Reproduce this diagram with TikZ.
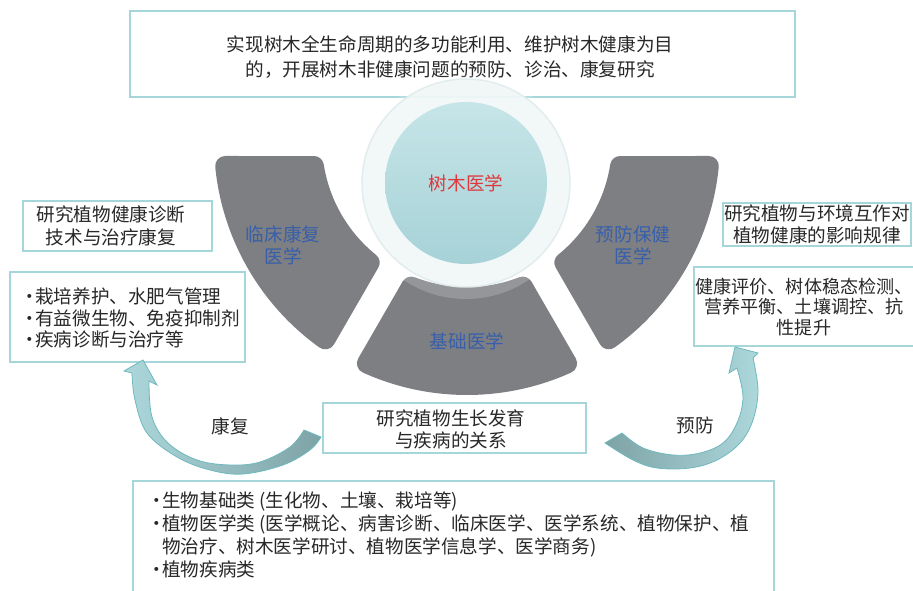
\documentclass[tikz,border=0pt]{standalone}
\usepackage{fontspec}
\setmainfont{Noto Sans CJK SC}
\usetikzlibrary{calc}
\definecolor{seggray}{RGB}{126,127,131}
\definecolor{boxline}{RGB}{165,215,218}
\definecolor{txt}{RGB}{40,40,40}
\definecolor{segblue}{RGB}{55,95,170}
\definecolor{cred}{RGB}{225,55,60}
\definecolor{circA}{RGB}{198,229,232}
\definecolor{circB}{RGB}{166,210,215}
\definecolor{haloc}{RGB}{241,247,247}
\definecolor{haloedge}{RGB}{225,236,237}
\definecolor{arlight}{RGB}{172,215,219}
\definecolor{ardark}{RGB}{126,163,166}
\definecolor{arline}{RGB}{110,185,190}
\newcommand\segshape[1]{%
  \path[seg] ($(C)+({#1+5.67}:243)$) arc[start angle={#1+5.67}, end angle={#1+54.33}, radius=243]
    -- ($(C)+({#1+51.09}:155)$) arc[start angle={#1+51.09}, end angle={#1+8.91}, radius=155] -- cycle;}
\begin{document}
\begin{tikzpicture}[x=1pt,y=1pt,
  box/.style={draw=boxline, line width=1.2pt, fill=white},
  txtf/.style={text=txt, font=\fontsize{18.6}{23}\selectfont, inner sep=0pt},
  seglab/.style={text=segblue, font=\fontsize{18.6}{21.5}\selectfont, inner sep=0pt, align=center},
  seg/.style={fill=seggray, draw=seggray, line width=20pt, line join=round},
  arrowL/.style={draw=arline, line width=0.8pt, left color=arlight, right color=ardark},
  arrowR/.style={draw=arline, line width=0.8pt, left color=ardark, right color=arlight}]
\useasboundingbox (0,0) rectangle (913,590);
\coordinate (C) at (467,448);

% top box
\draw[box] (130,579) rectangle (795,493);
\node[txtf, align=center, font=\fontsize{18.6}{25}\selectfont] (goal) at (450,532.5)
  {实现树木全生命周期的多功能利用、维护树木健康为目\\的，开展树木非健康问题的预防、诊治、康复研究};

% segments
\segshape{180}
\segshape{240}
\segshape{300}

% halo and core circle
\fill[white, opacity=0.18] (466,403) circle[radius=112];
\fill[haloc, opacity=0.93, draw=haloedge, line width=1.5pt] (466,407) circle[radius=104];
\node[circle, minimum size=162pt, inner sep=0pt, top color=circA, bottom color=circB,
  text=cred, font=\fontsize{18.6}{22}\selectfont] (core) at (466,407) {树木医学};

% segment labels
\node[seglab] (clin) at (283,344.5) {临床康复\\医学};
\node[seglab] (prev) at (633,344.5) {预防保健\\医学};
\node[seglab] (base) at (467,249) {基础医学};

% left boxes
\draw[box] (23,389) rectangle (212,339);
\node[txtf, align=center] (lt1) at (111,364) {研究植物健康诊断\\技术与治疗康复};
\draw[box] (10,318) rectangle (245,228);
\node[txtf, align=left, anchor=west, font=\fontsize{18.6}{21.5}\selectfont] (lt2) at (20,272)
  {\makebox[15pt][l]{·}栽培养护、水肥气管理\\\makebox[15pt][l]{·}有益微生物、免疫抑制剂\\\makebox[15pt][l]{·}疾病诊断与治疗等};

% right boxes
\draw[box] (723,387) rectangle (911,344);
\node[txtf, align=center, font=\fontsize{18.6}{22}\selectfont] (rt1) at (817,365.5) {研究植物与环境互作对\\植物健康的影响规律};
\draw[box] (694,323) rectangle (930,244);
\node[txtf, align=center, font=\fontsize{18.1}{20.5}\selectfont] (rt2) at (804,283) {健康评价、树体稳态检测、\\营养平衡、土壤调控、抗\\性提升};

% middle box
\draw[box] (323,187) rectangle (586,137);
\node[txtf, align=center, font=\fontsize{18.6}{22}\selectfont] (mid) at (451,161) {研究植物生长发育\\与疾病的关系};

% bottom box
\draw[box] (133,109) rectangle (774,-20);
\node[txtf, align=left, anchor=west] (bot) at (147,55.5)
  {\makebox[15pt][l]{·}生物基础类 (生化物、土壤、栽培等)\\
   \makebox[15pt][l]{·}植物医学类 (医学概论、病害诊断、临床医学、医学系统、植物保护、植\\
   \hspace*{15pt}物治疗、树木医学研讨、植物医学信息学、医学商务)\\
   \makebox[15pt][l]{·}植物疾病类};

% curved arrows
\path[arrowL] (143,230) -- (157,205) -- (149,209)
  -- plot[smooth, tension=0.6] coordinates {(149,209) (152,173) (168,147) (197,130) (230,125) (260,128) (290,143) (304,160)}
  -- (321,153)
  -- plot[smooth, tension=0.6] coordinates {(321,153) (310,140) (283,125) (243,116) (210,120) (177,133) (147,157) (135,190) (132,217)}
  -- (124,219) -- cycle;
\path[arrowR] (735,243) -- (758,237) -- (753,232)
  -- plot[smooth, tension=0.6] coordinates {(753,232) (758,200) (753,170) (740,147) (717,130) (690,122) (657,122) (633,130) (605,147)}
  -- (622,157)
  -- plot[smooth, tension=0.6] coordinates {(622,157) (643,142) (673,135) (700,137) (723,147) (737,167) (743,193) (737,222)}
  -- (729,217) -- cycle;
\node[txtf] (kf) at (230,164) {康复};
\node[txtf] (yf) at (695,165) {预防};
\end{tikzpicture}
\end{document}
